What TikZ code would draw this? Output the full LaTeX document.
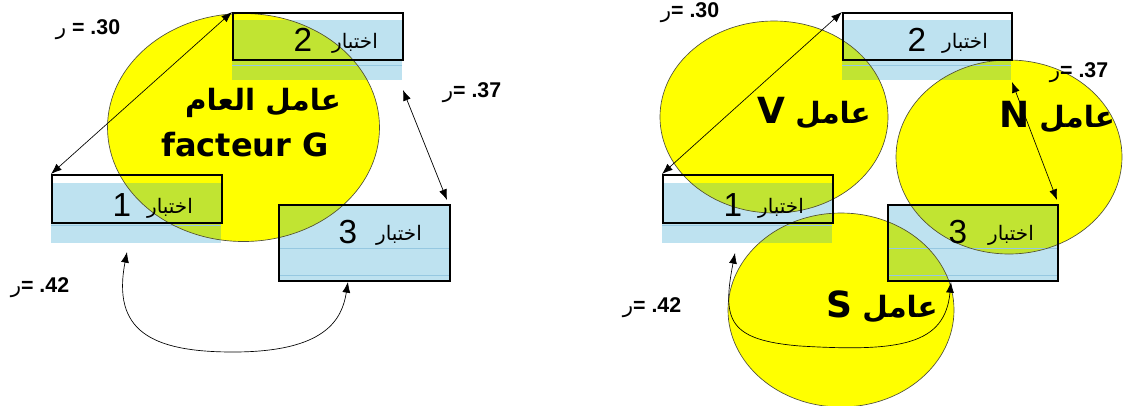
\documentclass[tikz,border=0pt]{standalone}
\usepackage{fontspec}
\setmainfont{Liberation Sans}
\newfontfamily\ar[Script=Arabic]{DejaVu Sans}
\newfontfamily\dejavu{DejaVu Sans}
\TeXXeTstate=1
\usetikzlibrary{arrows.meta,shapes.geometric}
\definecolor{yel}{RGB}{255,255,0}
\definecolor{lblue}{RGB}{190,226,240}
\definecolor{grn}{RGB}{193,228,50}
\definecolor{lline}{RGB}{150,200,225}
\definecolor{eline}{RGB}{80,80,60}
\newcommand\bluerects{%
  \fill (51,183) rectangle (221,243);
  \fill (232,20) rectangle (402,80);
  \fill (278,204) rectangle (449,280);
  \fill (662,183) rectangle (832,243);
  \fill (842,20) rectangle (1011,80);
  \fill (887,204) rectangle (1057,280);}
\newcommand\lat[1]{{\dejavu\bfseries\fontsize{27}{29}\selectfont #1}}
\begin{document}
\begin{tikzpicture}[x=0.75pt,y=-0.75pt,
  ellout/.style={ellipse,draw=eline,line width=0.5pt,inner sep=0pt},
  box/.style={draw=black,line width=1.5pt,inner sep=0pt,anchor=north west,minimum width=127.5pt},
  conn/.style={line width=0.5pt,{Latex[length=8pt,width=6pt]}-{Latex[length=8pt,width=6pt]}},
  dig/.style={font=\fontsize{25}{27}\selectfont,inner sep=0pt},
  art/.style={font=\ar\fontsize{15}{17}\selectfont,inner sep=0pt},
  big/.style={font=\ar\bfseries\fontsize{22}{24}\selectfont,inner sep=0pt},
  lbl/.style={font=\bfseries\fontsize{16}{18}\selectfont,inner sep=0pt},
  faint/.style={draw=lline,line width=0.4pt}]
\useasboundingbox (0,0) rectangle (1128,405);
% blue fills
\begin{scope}[lblue]\bluerects\end{scope}
% yellow ellipses
\fill[yel] (243.5,127.5) ellipse [x radius=102pt,y radius=85.5pt];
\fill[yel] (774,117) ellipse [x radius=85.5pt,y radius=72pt];
\fill[yel] (1009,157) ellipse [x radius=84.75pt,y radius=72.75pt];
\fill[yel] (841,310) ellipse [x radius=84.75pt,y radius=72.75pt];
% green overlaps
\begin{scope}[grn]\clip (243.5,127.5) ellipse [x radius=102pt,y radius=85.5pt];\bluerects\end{scope}
\begin{scope}[grn]\clip (774,117) ellipse [x radius=85.5pt,y radius=72pt];\bluerects\end{scope}
\begin{scope}[grn]\clip (1009,157) ellipse [x radius=84.75pt,y radius=72.75pt];\bluerects\end{scope}
\begin{scope}[grn]\clip (841,310) ellipse [x radius=84.75pt,y radius=72.75pt];\bluerects\end{scope}
% faint lines
\draw[faint] (51,225) -- (221,225);
\draw[faint] (232,65) -- (402,65);
\draw[faint] (278,248) -- (449,248);
\draw[faint] (278,275) -- (449,275);
\draw[faint] (662,225) -- (832,225);
\draw[faint] (842,65) -- (1011,65);
\draw[faint] (887,248) -- (1057,248);
\draw[faint] (887,275) -- (1057,275);
% ellipse outlines
\node[ellout,minimum width=204pt,minimum height=171pt] (EG) at (243.5,127.5) {};
\node[ellout,minimum width=171pt,minimum height=144pt] (EV) at (774,117) {};
\node[ellout,minimum width=169.5pt,minimum height=145.5pt] (EN) at (1009,157) {};
\node[ellout,minimum width=169.5pt,minimum height=145.5pt] (ES) at (841,310) {};
% boxes
\node[box,minimum height=36pt] (L1) at (51,174) {};
\node[box,minimum height=35.25pt] (L2) at (232,12) {};
\node[box,minimum width=128.25pt,minimum height=57pt] (L3) at (278,204) {};
\node[box,minimum height=36pt] (R1) at (662,174) {};
\node[box,minimum width=126.75pt,minimum height=35.25pt] (R2) at (842,12) {};
\node[box,minimum width=127.5pt,minimum height=57pt] (R3) at (887,204) {};
% box texts
\node[dig] (L2d) at (303,40) {2};
\node[art] (L2a) at (355,43) {\beginR اختبار\endR};
\node[dig] (L1d) at (122,205) {1};
\node[art] (L1a) at (170,208) {\beginR اختبار\endR};
\node[dig] (L3d) at (348,232) {3};
\node[art] (L3a) at (399,235) {\beginR اختبار\endR};
\node[dig] (R2d) at (917,40) {2};
\node[art] (R2a) at (965,43) {\beginR اختبار\endR};
\node[dig] (R1d) at (733,205) {1};
\node[art] (R1a) at (781,208) {\beginR اختبار\endR};
\node[dig] (R3d) at (958,232) {3};
\node[art] (R3a) at (1011,235) {\beginR اختبار\endR};
% ellipse texts
\node[big] (tG1) at (263,103) {\beginR عامل العام\endR};
\node[inner sep=0pt,font=\dejavu\bfseries\fontsize{24}{26}\selectfont] (tG2) at (245,145) {facteur G};
\node[big] (tV) at (814,113) {\beginR عامل \lat{V}\endR};
\node[big] (tN) at (1057,117) {\beginR عامل \lat{N}\endR};
\node[big] (tS) at (882,307) {\beginR عامل \lat{S}\endR};
% correlation labels
\node[lbl] (l30) at (88,30) {{\ar\mdseries ر} = .30};
\node[lbl] (l37) at (472,93) {{\ar\mdseries ر}= .37};
\node[lbl] (l42) at (40,288) {{\ar\mdseries ر}= .42};
\node[lbl] (r30) at (690,13) {{\ar\mdseries ر}= .30};
\node[lbl] (r37) at (1079,73) {{\ar\mdseries ر}= .37};
\node[lbl] (r42) at (652,308) {{\ar\mdseries ر}= .42};
% connectors left
\draw[conn] (L2.north west) -- (L1.north west);
\coordinate (L2b) at (403,90);
\draw[conn] (L2b) -- ([xshift=-3pt,yshift=3pt]L3.north east);
\coordinate (L1c) at (127,252);
\draw[conn] (L1c) .. controls (112,330) and (150,352) .. (233,352) .. controls (325,352) and (342,320) .. ([xshift=-12.4pt]L3.south);
% connectors right
\draw[conn] (R2.north west) -- (R1.north west);
\coordinate (R2b) at (1012,82);
\draw[conn] (R2b) -- ([xshift=-1.5pt,yshift=3pt]R3.north east);
\coordinate (R1c) at (735,253);
\draw[conn] (R1c) .. controls (722,320) and (728,340) .. (800,346) .. controls (900,352) and (945,345) .. ([xshift=-16.5pt]R3.south);
\end{tikzpicture}
\end{document}
